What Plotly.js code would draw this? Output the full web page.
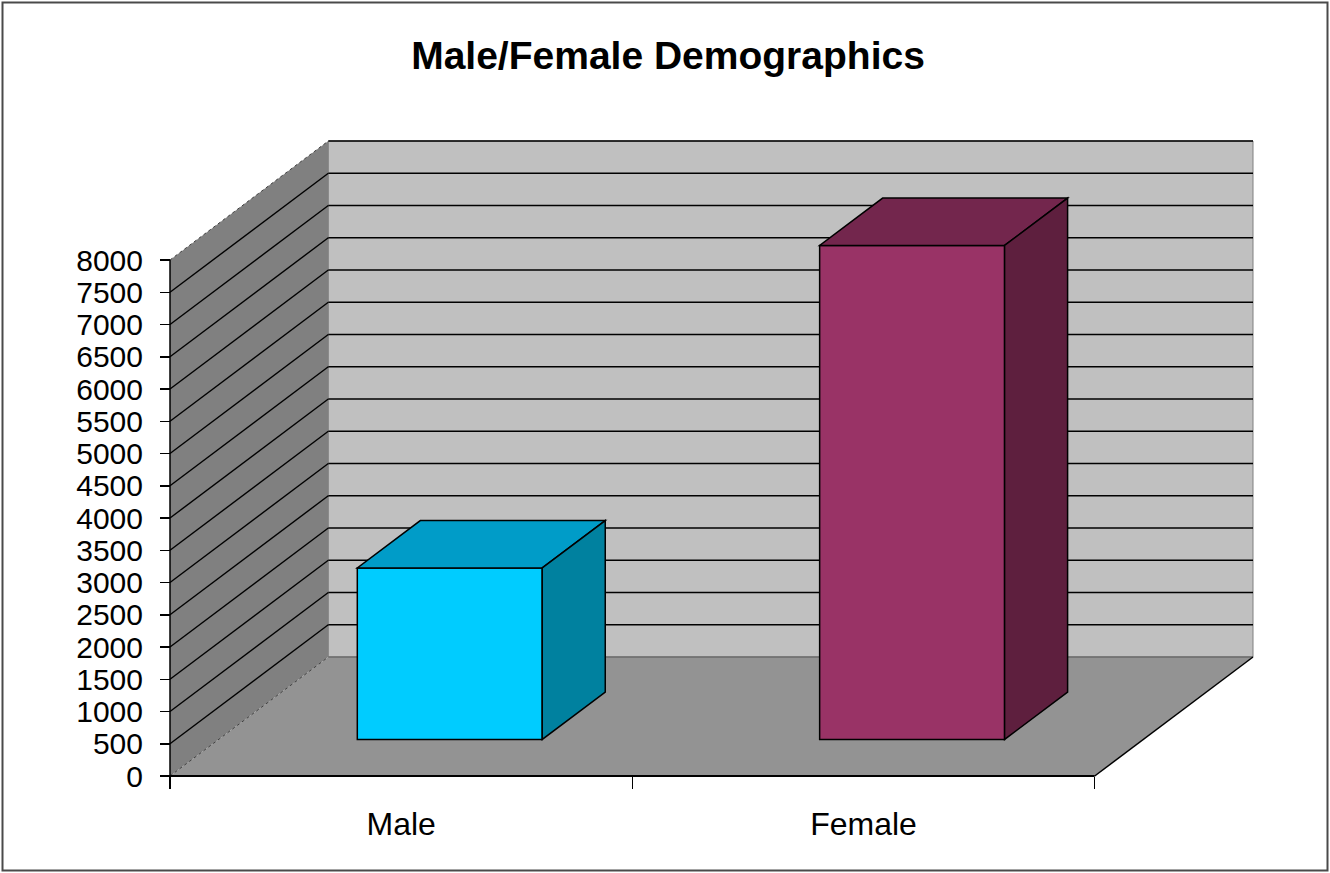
<!DOCTYPE html>
<html><head><meta charset="utf-8">
<script src="https://cdn.plot.ly/plotly-3.0.1.min.js"></script>
<style>html,body{margin:0;padding:0;background:#fff;} #chart{width:1330px;height:873px;}</style>
</head><body><div id="chart"></div>
<script>
// ---- data ----
const categories = ['Male', 'Female'];
const counts = [2660, 7660];
const yTicks = [0, 500, 1000, 1500, 2000, 2500, 3000, 3500, 4000, 4500, 5000, 5500, 6000, 6500, 7000, 7500, 8000];
const chartTitle = 'Male/Female Demographics';

// ---- colours ----
const frontColors = ['#00CCFF', '#993366'];
const topColors = ['#009CC8', '#73264D'];
const sideColors = ['#00819F', '#5E1F3E'];

// ---- geometry ----
const W = 1330, H = 873;
const ML = 166, MR = 73, MT = 137, MB = 93;
const PAD = 4;                     // px of breathing room inside plot area
const plotW = W - ML - MR, plotH = H - MT - MB;
const yMax = yTicks[yTicks.length - 1];
const DX = 0.3424;                 // depth of the box, in category units
const DY = 1845;                   // depth of the box, in value units
const F = 0.307, B = 0.705;        // bar front / back depth fractions
const BW = 0.40;                   // bar width, category units
const X0 = -0.5, X1 = categories.length - 0.5;
const xPadU = (X1 + DX - X0) * PAD / (plotW - 2 * PAD);
const yPadU = (yMax + DY) * PAD / (plotH - 2 * PAD);
const xRange = [X0 - xPadU, X1 + DX + xPadU];
const yRange = [-yPadU, yMax + DY + yPadU];

const shapes = [];
const P = pts => 'M' + pts.map(p => p[0] + ',' + p[1]).join(' L') + ' Z';

// floor
shapes.push({type: 'path', layer: 'below', xref: 'x', yref: 'y',
  path: P([[X0, 0], [X1, 0], [X1 + DX, DY], [X0 + DX, DY]]),
  fillcolor: '#939393', line: {width: 0}});
// back wall
shapes.push({type: 'rect', layer: 'below', xref: 'x', yref: 'y',
  x0: X0 + DX, x1: X1 + DX, y0: DY, y1: yMax + DY,
  fillcolor: '#C0C0C0', line: {color: '#808080', width: 1}});
// left wall
shapes.push({type: 'path', layer: 'below', xref: 'x', yref: 'y',
  path: P([[X0, 0], [X0, yMax], [X0 + DX, yMax + DY], [X0 + DX, DY]]),
  fillcolor: '#808080', line: {width: 0}});
// wall grid lines
yTicks.forEach(v => {
  const edge = (v === 0 || v === yMax);
  shapes.push({type: 'line', layer: 'below', xref: 'x', yref: 'y',
    x0: X0, y0: v, x1: X0 + DX, y1: v + DY,
    line: edge ? {color: '#404040', width: 1, dash: 'dot'} : {color: '#000', width: 1.4}});
  shapes.push({type: 'line', layer: 'below', xref: 'x', yref: 'y',
    x0: X0 + DX, y0: v + DY, x1: X1 + DX, y1: v + DY,
    line: v === 0 ? {color: '#6E6E6E', width: 1.4} : {color: '#000', width: 1.7}});
});
// floor edges & value axis line
shapes.push({type: 'line', layer: 'below', xref: 'x', yref: 'y',
  x0: X0, y0: 0, x1: X1, y1: 0, line: {color: '#000', width: 2}});
shapes.push({type: 'line', layer: 'below', xref: 'x', yref: 'y',
  x0: X1, y0: 0, x1: X1 + DX, y1: DY, line: {color: '#000', width: 1.5}});
shapes.push({type: 'line', layer: 'below', xref: 'x', yref: 'y',
  x0: X0, y0: 0, x1: X0, y1: yMax, line: {color: '#000', width: 1.5}});

// bar top and side faces, from the data
const baseF = F * DY, baseB = B * DY;
const shiftF = F * DX, shiftB = B * DX;
counts.forEach((v, i) => {
  const xl = i - BW / 2 + shiftF, xr = i + BW / 2 + shiftF;
  const xlb = i - BW / 2 + shiftB, xrb = i + BW / 2 + shiftB;
  shapes.push({type: 'path', layer: 'above', xref: 'x', yref: 'y',
    path: P([[xl, baseF + v], [xr, baseF + v], [xrb, baseB + v], [xlb, baseB + v]]),
    fillcolor: topColors[i], line: {color: '#000', width: 1.5}});
  shapes.push({type: 'path', layer: 'above', xref: 'x', yref: 'y',
    path: P([[xr, baseF], [xr, baseF + v], [xrb, baseB + v], [xrb, baseB]]),
    fillcolor: sideColors[i], line: {color: '#000', width: 1.5}});
});

// outer border
const px2x = px => (px - ML) / plotW;
const px2y = py => (H - MB - py) / plotH;
shapes.push({type: 'rect', xref: 'paper', yref: 'paper', layer: 'above',
  x0: px2x(2.5), x1: px2x(1327.5), y0: px2y(870.5), y1: px2y(2.5),
  line: {color: '#4A4A4A', width: 2}, fillcolor: 'rgba(0,0,0,0)'});

const trace = {
  type: 'bar',
  x: categories.map((c, i) => i),
  y: counts,
  base: counts.map(() => baseF),
  width: BW,
  offset: -BW / 2 + shiftF,
  marker: {color: frontColors, line: {color: '#000', width: 1.5}},
  hoverinfo: 'skip', showlegend: false
};

const font = {family: '"Liberation Sans", Arial, sans-serif', color: '#000'};
const layout = {
  width: W, height: H,
  margin: {l: ML, r: MR, t: MT, b: MB, pad: 0},
  paper_bgcolor: '#fff', plot_bgcolor: 'rgba(0,0,0,0)',
  showlegend: false,
  font: font,
  title: {text: chartTitle, x: 668 / W, xref: 'container', xanchor: 'center',
    y: 1 - 55 / H, yref: 'container', yanchor: 'middle',
    font: {family: font.family, size: 39, weight: 700, color: '#000'}},
  xaxis: {
    range: xRange, anchor: 'free', position: PAD / plotH,
    showgrid: false, zeroline: false, showline: false,
    tickmode: 'array', tickvals: categories.map((c, i) => i), ticktext: categories,
    ticks: '', ticklabelstandoff: 26,
    tickfont: {family: font.family, size: 32, color: '#000'},
    minor: {tickmode: 'array', tickvals: categories.map((c, i) => i - 0.5).concat([X1]),
      ticks: 'outside', ticklen: 12, tickwidth: 1.5, tickcolor: '#000', showgrid: false},
    fixedrange: true
  },
  yaxis: {
    range: yRange, anchor: 'free', position: PAD / plotW,
    showgrid: false, zeroline: false, showline: false,
    tickmode: 'array', tickvals: yTicks, ticktext: yTicks.map(String),
    ticks: 'outside', ticklen: 10, tickwidth: 1.5, tickcolor: '#000',
    ticklabelstandoff: 11,
    tickfont: {family: font.family, size: 30, color: '#000'},
    fixedrange: true
  },
  shapes: shapes
};

Plotly.newPlot('chart', [trace], layout, {displayModeBar: false, staticPlot: true});
</script></body></html>
